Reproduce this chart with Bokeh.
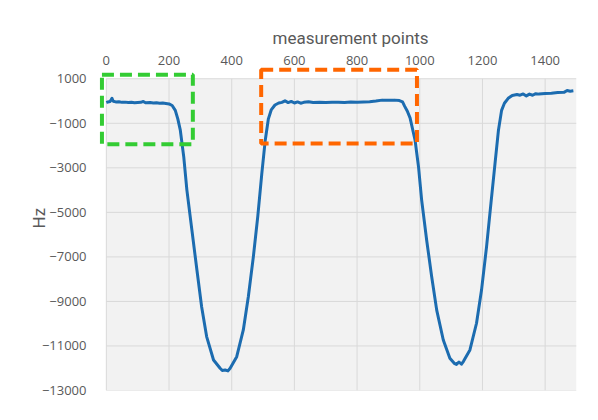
from bokeh.plotting import figure
from bokeh.models import FixedTicker, Range1d, Title
from bokeh.embed import file_html
from bokeh.resources import INLINE

# ---- data ----
x_points = [0, 5, 12, 18, 22, 30, 40, 50, 60, 70, 80, 90, 100, 110, 118, 125, 140, 150, 160, 170,
            180, 190, 200, 210, 220, 228, 236, 247, 257, 273, 289, 304, 320, 342, 363, 370, 379, 388,
            395, 416, 437, 453, 469, 483, 496, 507, 517, 526, 538, 550, 560, 570, 580, 590, 600, 610,
            620, 630, 645, 660, 680, 700, 720, 740, 760, 780, 800, 820, 840, 860, 880, 900, 920, 935,
            945, 952, 960, 969, 985, 996, 1006, 1022, 1038, 1054, 1075, 1096, 1110, 1117, 1125, 1133,
            1139, 1160, 1181, 1197, 1213, 1227, 1240, 1251, 1261, 1270, 1282, 1295, 1310, 1320, 1330,
            1340, 1350, 1360, 1370, 1380, 1400, 1420, 1440, 1460, 1470, 1480, 1490]
hz_values = [-70, -40, -20, 120, -10, -40, -30, -60, -50, -70, -60, -80, -70, -60, -20, -80, -70, -90, -80, -100,
             -90, -110, -130, -200, -420, -800, -1310, -2510, -4000, -5800, -7590, -9240, -10580, -11630, -12000, -12100, -12080, -12120,
             -12000, -11480, -10280, -8790, -7000, -5200, -3260, -1760, -800, -400, -180, -90, -60, 10, -70, -20, -90, -40,
             -100, -60, -30, -70, -50, -70, -60, -50, -70, -40, -50, -40, -30, 0, 40, 30, 40, 20,
             -40, -240, -450, -760, -1760, -2960, -4450, -6250, -7890, -9390, -10730, -11550, -11780, -11830, -11720, -11820,
             -11700, -11180, -9980, -8490, -6550, -4600, -2810, -1310, -420, -100, 120, 250, 290, 260, 320,
             230, 310, 260, 330, 310, 340, 350, 380, 390, 470, 440, 460]

x_ticks = [0, 200, 400, 600, 800, 1000, 1200, 1400]
y_ticks = [1000, -1000, -3000, -5000, -7000, -9000, -11000, -13000]
x_bounds = [0, 1500]
y_bounds = [-13000, 1000]

# highlighted regions: [x_left, x_right, y_bottom, y_top]
green_box = [-14, 276, -1942, 1184]
orange_box = [494, 991, -1910, 1408]

TXT = "#595959"
FONT = "Open Sans"
TFONT = "Roboto"

p = figure(width=582, height=404, output_backend="svg", toolbar_location=None,
           x_range=Range1d(-25, 1500), y_range=Range1d(-13000, 1550),
           x_axis_location="above",
           min_border_left=98, min_border_right=6, min_border_top=66, min_border_bottom=14)
p.outline_line_color = None
p.background_fill_color = "white"
p.border_fill_color = "white"
p.xgrid.visible = False
p.ygrid.visible = False

# plot area
p.quad(left=[x_bounds[0]], right=[x_bounds[1]], bottom=[y_bounds[0]], top=[y_bounds[1]],
       fill_color="#f2f2f2", line_color=None)
# gridlines
p.segment(x0=x_ticks, y0=[y_bounds[0]] * len(x_ticks), x1=x_ticks, y1=[y_bounds[1]] * len(x_ticks),
          line_color="#d9d9d9", line_width=1)
p.segment(x0=[x_bounds[0]] * len(y_ticks), y0=y_ticks, x1=[x_bounds[1]] * len(y_ticks), y1=y_ticks,
          line_color="#d9d9d9", line_width=1)

# series
p.line(x_points, hz_values, line_width=3, line_color="#1c6cb0", line_join="round")

# dashed boxes
p.quad(left=[green_box[0]], right=[green_box[1]], bottom=[green_box[2]], top=[green_box[3]],
       fill_color=None, line_color="#33cc33", line_width=4, line_dash="12 6")
p.quad(left=[orange_box[0]], right=[orange_box[1]], bottom=[orange_box[2]], top=[orange_box[3]],
       fill_color=None, line_color="#ff6600", line_width=4, line_dash="12 6")

xa = p.xaxis[0]
xa.ticker = FixedTicker(ticks=x_ticks)
xa.axis_line_color = None
xa.major_tick_line_color = None
xa.minor_tick_line_color = None
xa.major_label_text_font = FONT
xa.major_label_text_font_size = "13px"
xa.major_label_text_color = TXT
xa.major_label_standoff = -4

ya = p.yaxis[0]
ya.ticker = FixedTicker(ticks=y_ticks)
ya.axis_line_color = None
ya.major_tick_line_color = None
ya.minor_tick_line_color = None
ya.major_label_text_font = FONT
ya.major_label_text_font_size = "13px"
ya.major_label_text_color = TXT
ya.major_label_standoff = 6

p.title.text = "measurement points"
p.title.align = "left"
p.title.offset = 174
p.title.text_font = TFONT
p.title.text_font_size = "17px"
p.title.text_font_style = "normal"
p.title.text_color = TXT
p.title.standoff = 10

p.add_layout(Title(text="Hz", align="left", offset=162, text_font=TFONT, text_font_size="17px",
                   text_font_style="normal", text_color=TXT, standoff=-20), "left")

open("out.html", "w").write(file_html(p, INLINE))
